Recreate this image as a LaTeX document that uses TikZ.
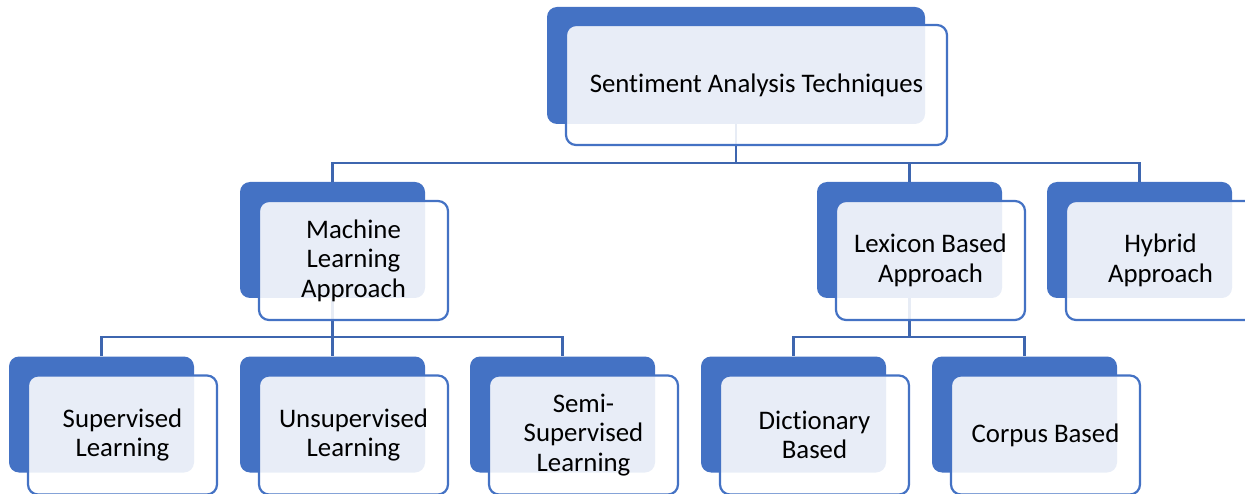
\documentclass[tikz,border=0pt]{standalone}
\usepackage{fontspec}
\setmainfont{Carlito}[Ligatures=NoCommon]
\usetikzlibrary{positioning}
\definecolor{accentblue}{HTML}{4472C4}
\definecolor{linkblue}{HTML}{3E66AF}
\newcommand{\dark}{accentblue}
\newcommand{\link}{linkblue}

\begin{document}
\begin{tikzpicture}[x=1pt,y=-1pt,
        backbox/.style={fill=\dark, rounded corners=10pt, minimum width=185pt, minimum height=116pt, inner sep=0pt},
        frontbox/.style={draw=\dark, line width=2.2pt, fill=white, fill opacity=0.88, text opacity=1,
            rounded corners=10pt, minimum width=189pt, minimum height=119pt, inner sep=0pt,
            align=center, font=\fontsize{26.8}{29.5}\selectfont},
        branch/.style={draw=\link, line width=2.4pt}]
        \useasboundingbox (0,0) rectangle (1245,494);
        % back boxes
        \node[backbox, minimum width=378pt, minimum height=117pt] (satb) at (736,65.5) {};
        \node[backbox] (mlab) at (332.5,240) {};
        \node[backbox] (lbab) at (909.5,240) {};
        \node[backbox] (hyab) at (1139.5,240) {};
        \node[backbox] (slb) at (101.5,414.5) {};
        \node[backbox] (ulb) at (332.5,414.5) {};
        \node[backbox] (sslb) at (562.5,414.5) {};
        \node[backbox] (dbb) at (793.5,414.5) {};
        \node[backbox] (cbb) at (1024.5,414.5) {};
        % connectors
        \draw[branch] (satb.south) -- ++(0,39) -| (mlab.north);
        \draw[branch] (satb.south) -- ++(0,39) -| (lbab.north);
        \draw[branch] (satb.south) -- ++(0,39) -| (hyab.north);
        \draw[branch] (mlab.south) -- ++(0,39) -| (slb.north);
        \draw[branch] (mlab.south) -- ++(0,39) -| (ulb.north);
        \draw[branch] (mlab.south) -- ++(0,39) -| (sslb.north);
        \draw[branch] (lbab.south) -- ++(0,39) -| (dbb.north);
        \draw[branch] (lbab.south) -- ++(0,39) -| (cbb.north);
        % front boxes
        \node[frontbox, minimum width=381pt, minimum height=120pt] (sat) at ([shift={(20.5,19.5)}]satb) {Sentiment Analysis Techniques};
        \node[frontbox] (mla) at ([shift={(21,20.5)}]mlab) {Machine\\Learning\\Approach};
        \node[frontbox] (lba) at ([shift={(21,20.5)}]lbab) {Lexicon Based\\Approach};
        \node[frontbox] (hya) at ([shift={(21,20.5)}]hyab) {Hybrid\\Approach};
        \node[frontbox] (sl) at ([shift={(21,20.5)}]slb) {Supervised\\Learning};
        \node[frontbox] (ul) at ([shift={(21,20.5)}]ulb) {Unsupervised\\Learning};
        \node[frontbox] (ssl) at ([shift={(21,20.5)}]sslb) {Semi-\\Supervised\\Learning};
        \node[frontbox] (db) at ([shift={(21,20.5)}]dbb) {Dictionary\\Based};
        \node[frontbox] (cb) at ([shift={(21,20.5)}]cbb) {Corpus Based};
    \end{tikzpicture}
\end{document}
